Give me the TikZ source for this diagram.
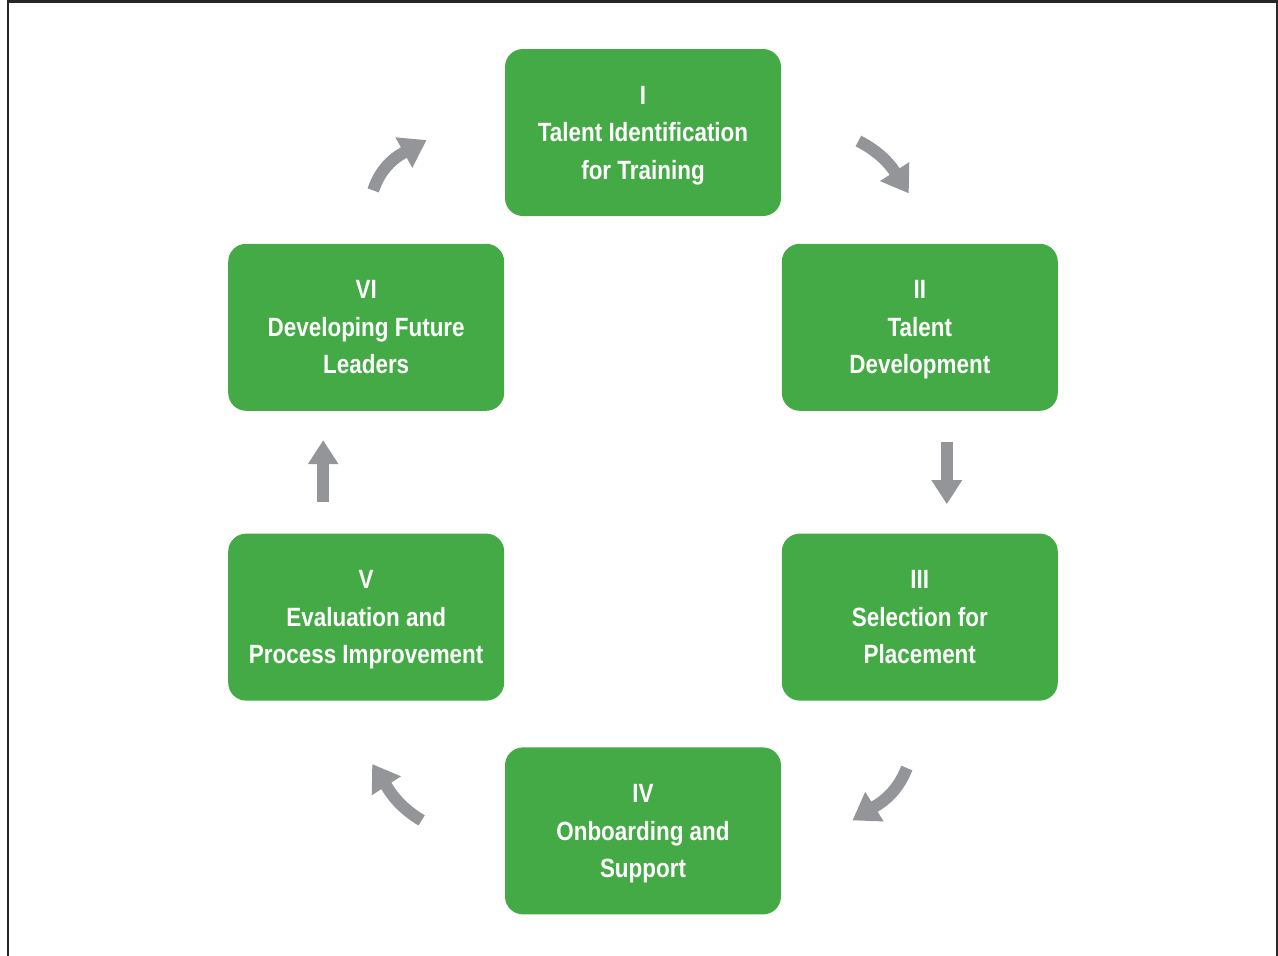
\documentclass[tikz,border=0pt]{standalone}
\usepackage{fontspec}
\setmainfont{Liberation Sans}[FakeStretch=0.85]
\usepackage{tikz}
\usetikzlibrary{arrows.meta, calc, positioning}

\definecolor{stagegreen}{RGB}{67,170,69}
\definecolor{arrowgray}{RGB}{147,149,152}

\begin{document}
\begin{tikzpicture}[x=0.5pt, y=0.5pt, node distance=13.5pt]
	\tikzstyle{stage} = [fill=stagegreen, rounded corners=9pt, minimum width=138pt, minimum height=83.5pt, inner sep=0pt, text depth=-0.5pt, text=white, align=center, font=\bfseries\fontsize{13.2}{18.75}\selectfont]
	\tikzstyle{turn} = [draw=arrowgray, line width=6pt, -{Triangle[length=13pt, width=16.5pt]}]
	\tikzstyle{drop} = [draw=arrowgray, line width=5.8pt, -{Triangle[length=12pt, width=14.5pt]}]

	\useasboundingbox (-643,132.5) rectangle (635,-822.5);
	\draw[line width=1.4pt, black!85] (-635,-840) |- (634,131) -- (634,-840);

	\begin{scope}
		\path
			node[stage] (t1) at (0,0) {I\\Talent Identification\\for Training}
			node[stage, below right=13.5pt and 0pt of t1] (t2) {II\\Talent\\Development}
			node[stage, below left=13.5pt and 0pt of t1] (t6) {VI\\Developing Future\\Leaders}
			node[stage, below=61pt of t2] (t3) {III\\Selection for\\Placement}
			node[stage, below=61pt of t6] (t5) {V\\Evaluation and\\Process Improvement}
			node[stage, below left=23pt and 0pt of t3] (t4) {IV\\Onboarding and\\Support}
		;
	\end{scope}

	% cycle arrows
	\draw[turn] ([shift={(77,-8.5)}]t1.east) to[out=-27, in=123] ([shift={(-11,50)}]t2.north);
	\draw[drop] ([shift={(27,-31)}]t2.south) -- ([shift={(27,29)}]t3.north);
	\draw[turn] ([shift={(-13,-67)}]t3.south) to[out=-111, in=32] ([shift={(71,10.5)}]t4.east);
	\draw[turn] ([shift={(-83,10.5)}]t4.west) to[out=149, in=-57] ([shift={(6,-63)}]t5.south);
	\draw[drop] ([shift={(-43,31)}]t5.north) -- ([shift={(-43,-29)}]t6.south);
	\draw[turn] ([shift={(7,53)}]t6.north) to[out=72, in=209] ([shift={(-78,-7.5)}]t1.west);
\end{tikzpicture}
\end{document}
